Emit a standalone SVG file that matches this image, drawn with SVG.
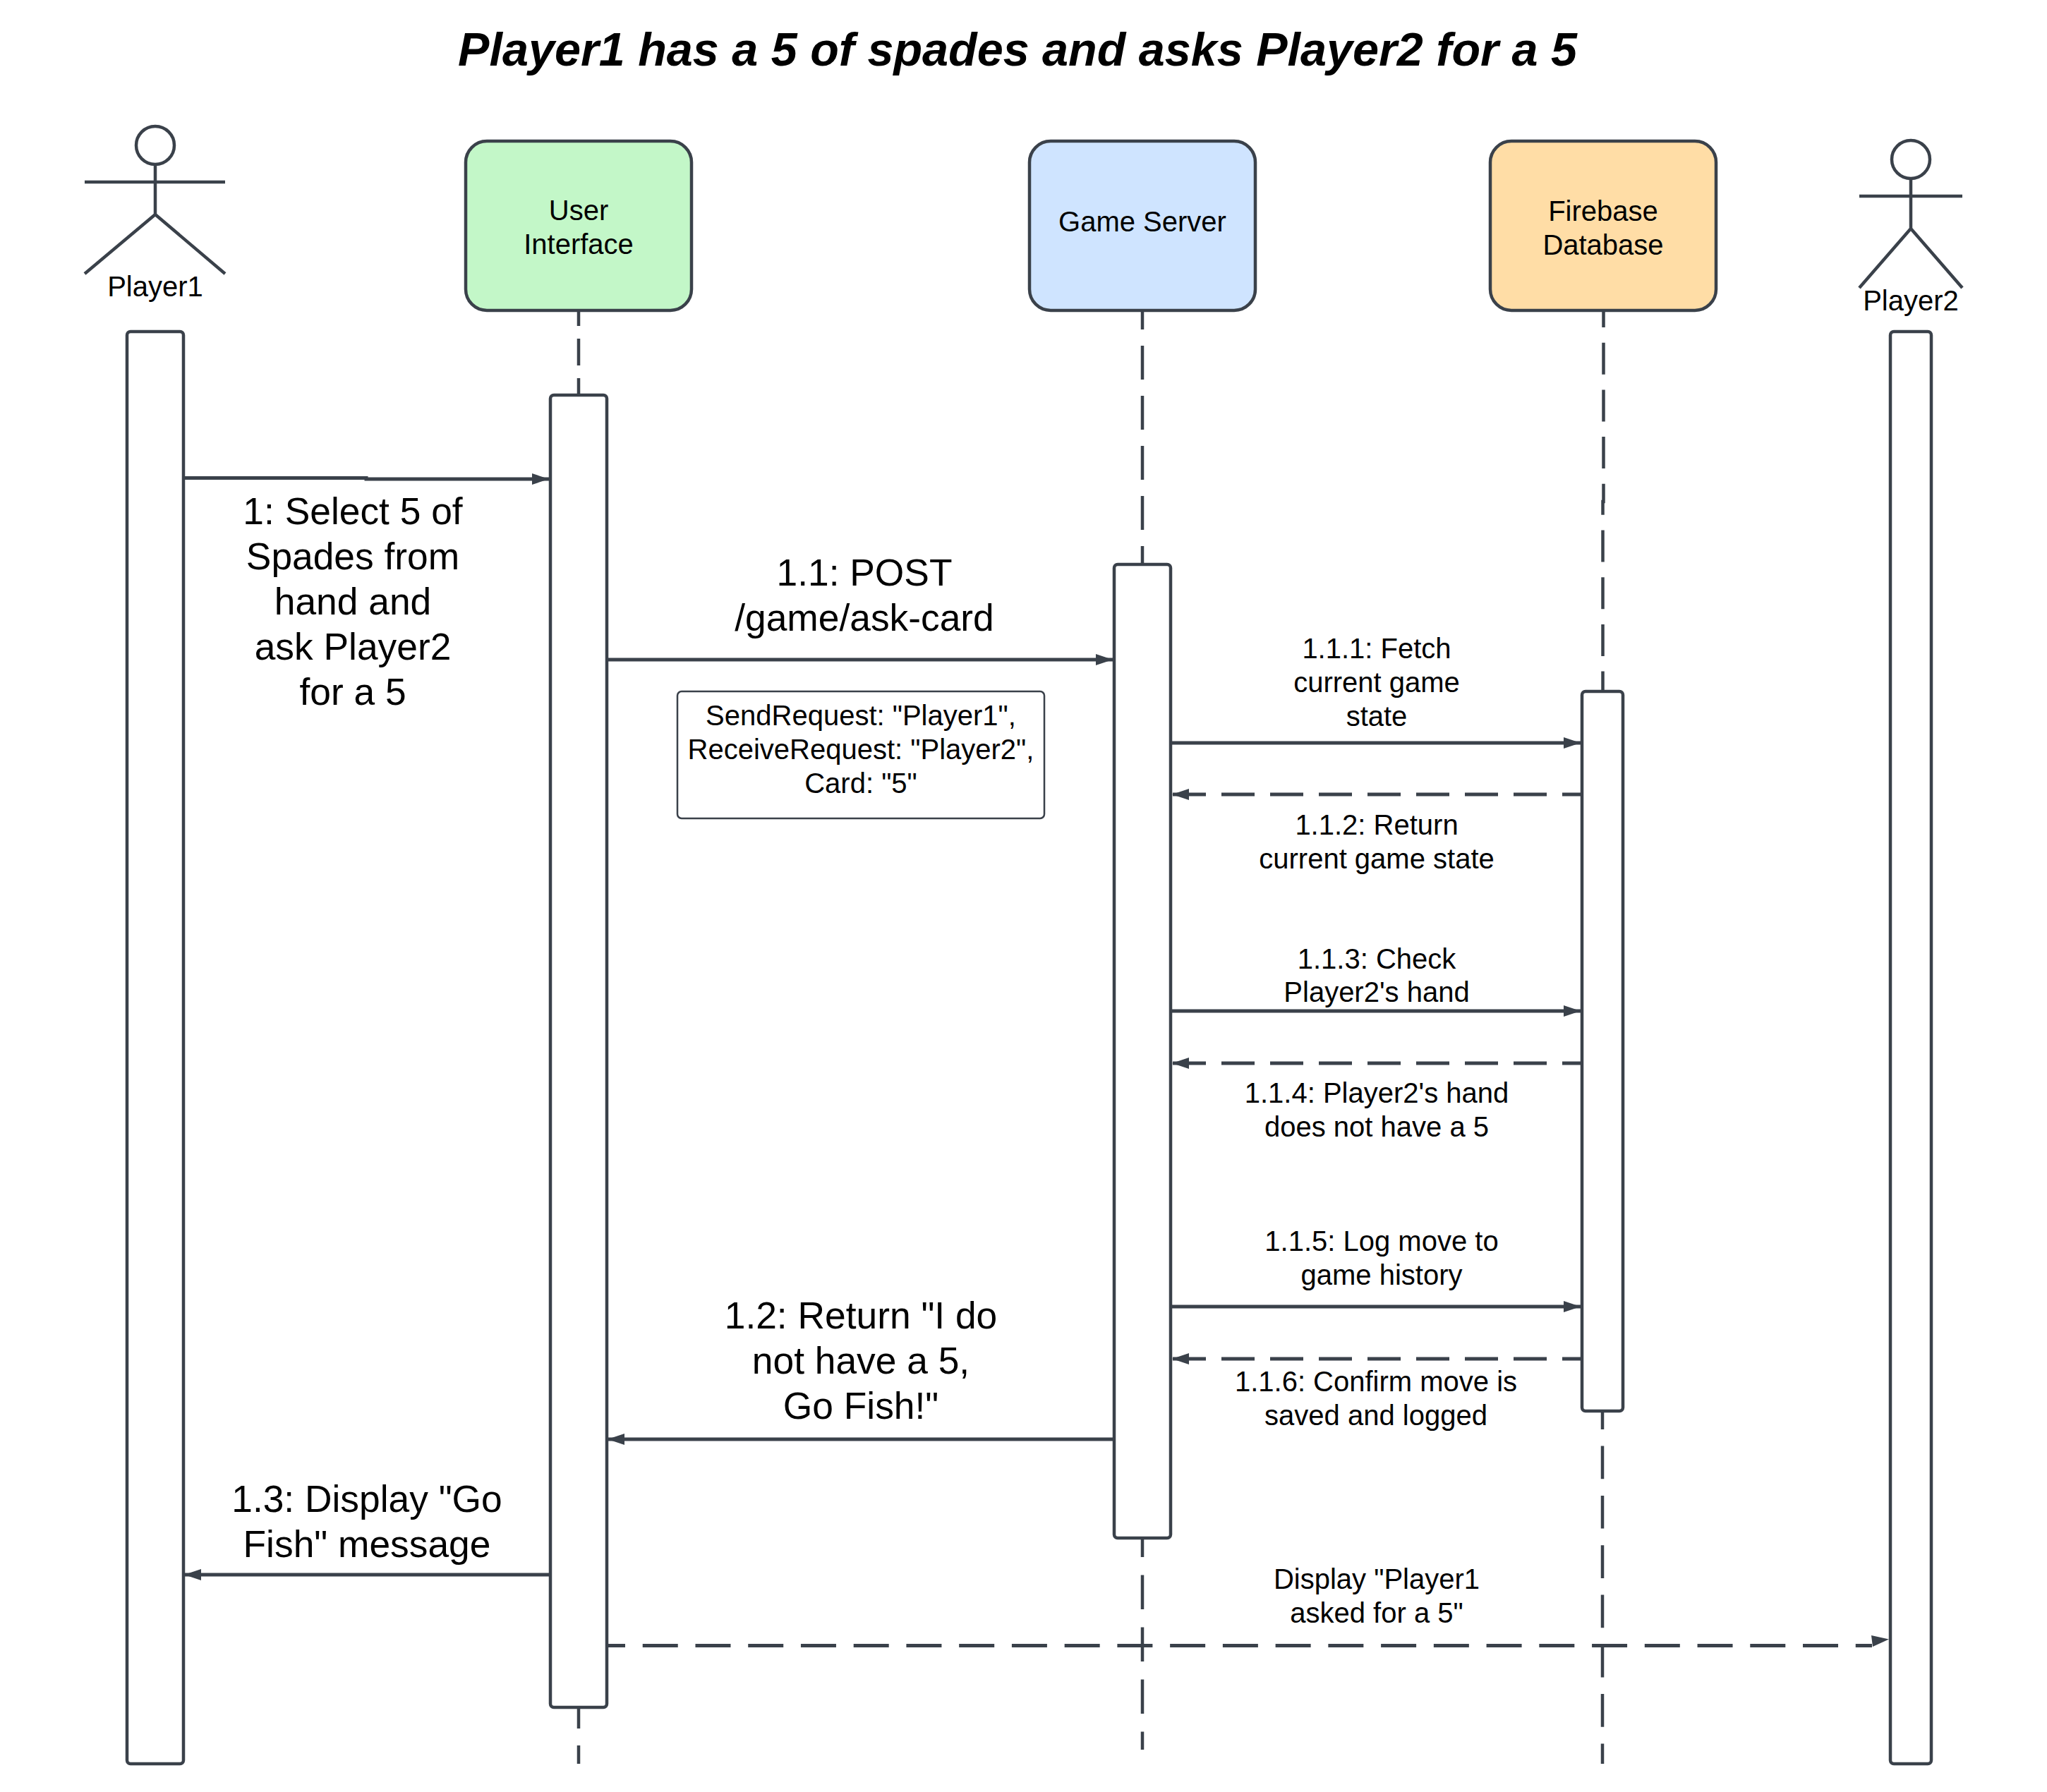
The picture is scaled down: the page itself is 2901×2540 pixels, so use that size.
<svg xmlns="http://www.w3.org/2000/svg" width="2901" height="2540" viewBox="0 0 2901 2540">
<style>
text{font-family:"Liberation Sans",Arial,sans-serif;fill:#000;text-anchor:middle}
.t{font-size:40px}
.l{font-size:53.33px}
.title{font-size:66.5px;font-weight:bold;font-style:italic}
.s{fill:none;stroke:#3a414a;stroke-width:4.5}
.node{stroke:#3a414a;stroke-width:4.5}
.act{fill:#fff;stroke:#3a414a;stroke-width:4.5}
.life{fill:none;stroke:#3a414a;stroke-width:4.5}
.m{fill:none;stroke:#3a414a;stroke-width:5;marker-end:url(#ah)}
.d{fill:none;stroke:#3a414a;stroke-width:5;stroke-dasharray:47 22;stroke-dashoffset:19;marker-end:url(#ah)}
</style>
<defs>
<marker id="ah" markerUnits="userSpaceOnUse" markerWidth="26" markerHeight="18" refX="24" refY="8" orient="auto"><path d="M0 0L24 8L0 16Z" fill="#3a414a"/></marker>
</defs>
<rect width="2901" height="2540" fill="#fff"/>
<text class="title" x="1442" y="93">Player1 has a 5 of spades and asks Player2 for a 5</text>
<g id="lifelines">
<path class="life" d="M820 440V560" stroke-dasharray="38 18" stroke-dashoffset="16"/>
<path class="life" d="M820 2420V2500" stroke-dasharray="30 24"/>
<path class="life" d="M1619 440V800" stroke-dasharray="48 23" stroke-dashoffset="21"/>
<path class="life" d="M1619 2180V2480" stroke-dasharray="48.5 25.5" stroke-dashoffset="21.5"/>
<path class="life" d="M2272.5 440V711H2271.5V980" stroke-dasharray="45 21.7" stroke-dashoffset="21"/>
<path class="life" d="M2271 2000V2500" stroke-dasharray="46.7 23.6" stroke-dashoffset="20.7"/>
</g>
<g id="player1"><ellipse class="s" cx="220" cy="206" rx="27" ry="27"/><path class="s" d="M220 233V304M120 258H319M120 388L220 304L319 388"/><text class="t" x="220" y="420">Player1</text></g>
<g id="player2"><ellipse class="s" cx="2708" cy="226" rx="27" ry="27"/><path class="s" d="M2708 253V324M2635 278H2781M2635 408L2708 324L2781 408"/><text class="t" x="2708" y="440">Player2</text></g>
<g id="user-interface"><rect class="node" x="660" y="200" width="320" height="240" rx="30" fill="#c3f7c8"/><text class="t" x="820" y="312">User</text><text class="t" x="820" y="360">Interface</text></g>
<g id="game-server"><rect class="node" x="1459" y="200" width="320" height="240" rx="30" fill="#cfe4ff"/><text class="t" x="1619" y="328">Game Server</text></g>
<g id="firebase"><rect class="node" x="2112" y="200" width="320" height="240" rx="30" fill="#ffdda6"/><text class="t" x="2272" y="313">Firebase</text><text class="t" x="2272" y="361">Database</text></g>
<g id="act-player1"><rect class="act" x="180" y="470" width="80" height="2030" rx="5"/></g>
<g id="act-ui"><rect class="act" x="780" y="560" width="80" height="1860" rx="5"/></g>
<g id="act-server"><rect class="act" x="1579" y="800" width="80" height="1380" rx="5"/></g>
<g id="act-db"><rect class="act" x="2242" y="980" width="58" height="1020" rx="5"/></g>
<g id="act-player2"><rect class="act" x="2679" y="470" width="58" height="2030" rx="5"/></g>
<g id="connectors">
<path class="m" d="M261 677.5H519V679H778"/>
<path class="m" d="M860 935H1577"/>
<path class="m" d="M1659 1053H2240"/>
<path class="d" d="M2242 1126H1661"/>
<path class="m" d="M1659 1433H2240"/>
<path class="d" d="M2242 1507H1661"/>
<path class="m" d="M1659 1852H2240"/>
<path class="d" d="M2242 1926H1661"/>
<path class="m" d="M1579 2040H861"/>
<path class="m" d="M780 2232H261"/>
<path fill="none" stroke="#3a414a" stroke-width="5" stroke-dasharray="50 24.74" stroke-dashoffset="24" d="M860 2332.5H2653"/>
<path fill="#3a414a" d="M2652 2318L2677 2323.5L2654 2334Z"/>
</g>
<g id="note"><rect x="960" y="980" width="520" height="180" rx="6" fill="#fff" stroke="#3a414a" stroke-width="2.5"/><text class="t" x="1220" y="1028">SendRequest: "Player1",</text><text class="t" x="1220" y="1076">ReceiveRequest: "Player2",</text><text class="t" x="1220" y="1124">Card: "5"</text></g>
<g id="labels">
<text class="l" x="500" y="743">1: Select 5 of</text><text class="l" x="500" y="807">Spades from</text><text class="l" x="500" y="871">hand and</text><text class="l" x="500" y="935">ask Player2</text><text class="l" x="500" y="999">for a 5</text>
<text class="l" x="1225" y="830">1.1: POST</text><text class="l" x="1225" y="894">/game/ask-card</text>
<text class="t" x="1951" y="933">1.1.1: Fetch</text><text class="t" x="1951" y="981">current game</text><text class="t" x="1951" y="1029">state</text>
<text class="t" x="1951" y="1183">1.1.2: Return</text><text class="t" x="1951" y="1231">current game state</text>
<text class="t" x="1951" y="1373">1.1.3: Check</text><text class="t" x="1951" y="1420">Player2's hand</text>
<text class="t" x="1951" y="1563">1.1.4: Player2's hand</text><text class="t" x="1951" y="1611">does not have a 5</text>
<text class="t" x="1958" y="1773">1.1.5: Log move to</text><text class="t" x="1958" y="1821">game history</text>
<text class="t" x="1950" y="1972">1.1.6: Confirm move is</text><text class="t" x="1950" y="2020">saved and logged</text>
<text class="l" x="1220" y="1883">1.2: Return "I do</text><text class="l" x="1220" y="1947">not have a 5,</text><text class="l" x="1220" y="2011">Go Fish!"</text>
<text class="l" x="520" y="2143">1.3: Display "Go</text><text class="l" x="520" y="2207">Fish" message</text>
<text class="t" x="1951" y="2252">Display "Player1</text><text class="t" x="1951" y="2300">asked for a 5"</text>
</g>
</svg>
